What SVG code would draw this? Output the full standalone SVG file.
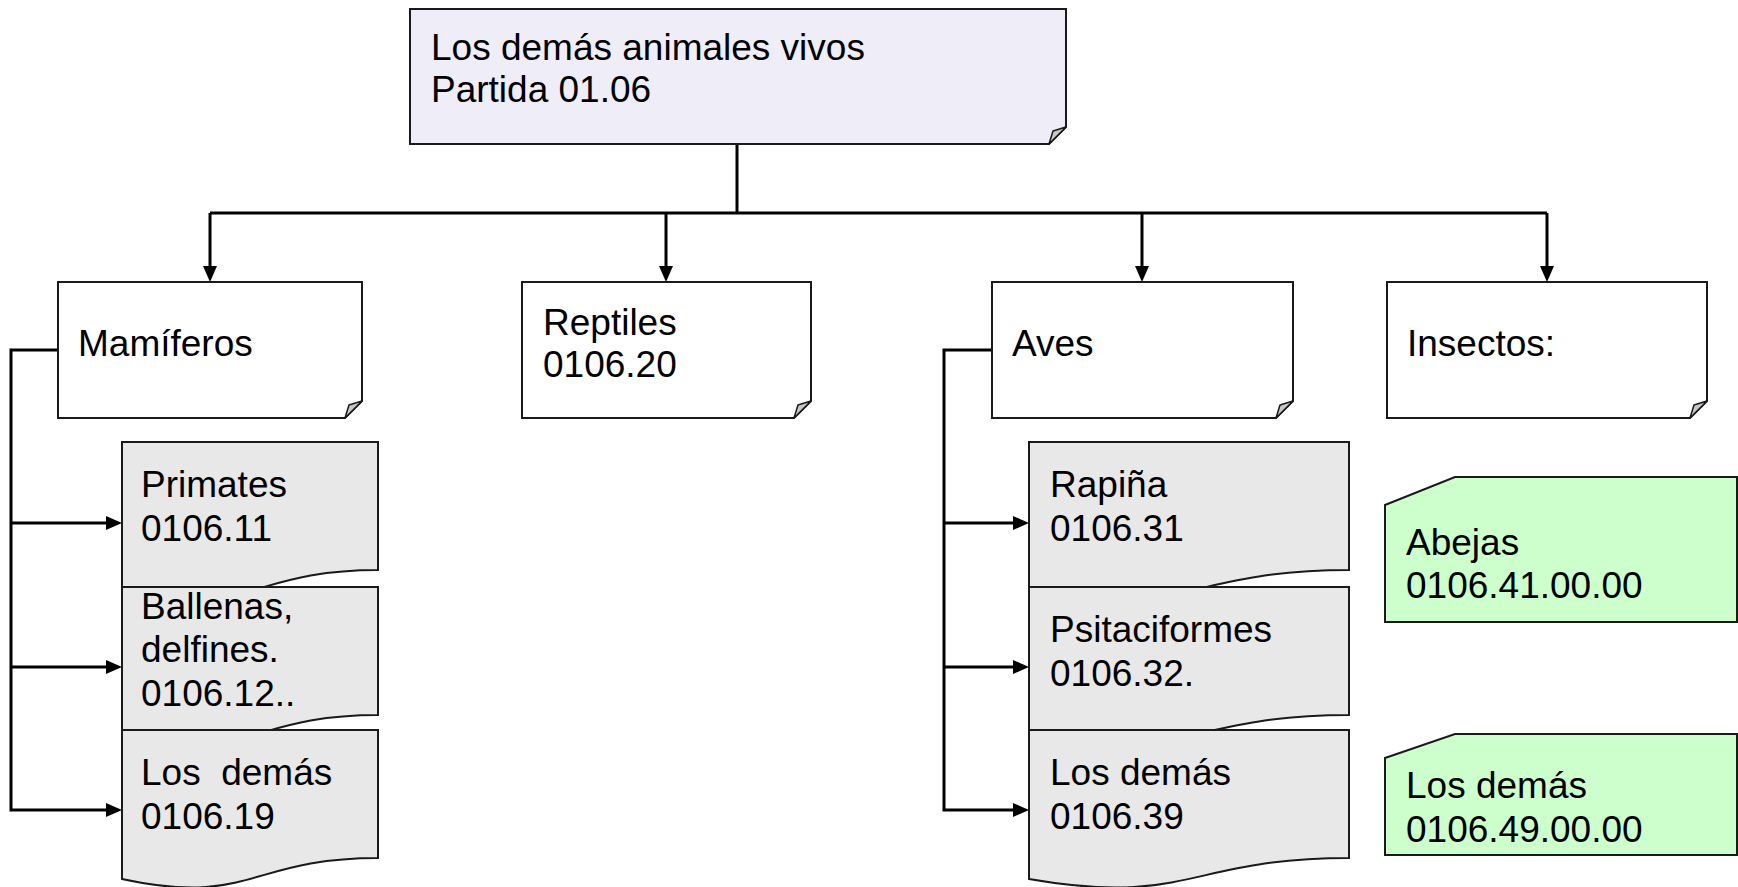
<svg xmlns="http://www.w3.org/2000/svg" width="1738" height="887" viewBox="0 0 1738 887">
<style>
text{font-family:"Liberation Sans",Arial,sans-serif;font-size:37px;fill:#000;white-space:pre}
.box{stroke:#1a1a1a;stroke-width:2;stroke-linejoin:miter}
.top{fill:#efedf8}
.white{fill:#fff}
.doc{fill:#e8e8e8}
.green{fill:#ccffcc}
.fold{fill:#c8c8c8;stroke:#1a1a1a;stroke-width:1.5;stroke-linejoin:round}
.conn{fill:none;stroke:#000;stroke-width:3}
</style>
<defs>
<marker id="arr" markerUnits="userSpaceOnUse" markerWidth="16" markerHeight="16" viewBox="0 0 16 16" refX="2" refY="8" orient="auto">
<path d="M0,1 L16,8 L0,15 Z" fill="#000"/>
</marker>
</defs>
<rect width="1738" height="887" fill="#fff"/>

<g id="connectors">
<path class="conn" d="M737,144 V213"/>
<path class="conn" d="M210,213 H1547"/>
<path class="conn" d="M210,213 V268" marker-end="url(#arr)"/>
<path class="conn" d="M666,213 V268" marker-end="url(#arr)"/>
<path class="conn" d="M1142,213 V268" marker-end="url(#arr)"/>
<path class="conn" d="M1547,213 V268" marker-end="url(#arr)"/>
<path class="conn" d="M58,350 H11 V810 H108" marker-end="url(#arr)"/>
<path class="conn" d="M11,523 H108" marker-end="url(#arr)"/>
<path class="conn" d="M11,667 H108" marker-end="url(#arr)"/>
<path class="conn" d="M992,350 H944 V810 H1015" marker-end="url(#arr)"/>
<path class="conn" d="M944,523 H1015" marker-end="url(#arr)"/>
<path class="conn" d="M944,667 H1015" marker-end="url(#arr)"/>
</g>

<g id="root">
<path class="box top" d="M410,9 H1066 V127 L1049,144 H410 Z"/>
<path class="fold" d="M1066,127 L1053,131 L1049,144 Z"/>
<text x="431" y="60">Los demás animales vivos</text>
<text x="431" y="102">Partida 01.06</text>
</g>

<g id="mamiferos">
<path class="box white" d="M58,282 H362 V401 L345,418 H58 Z"/>
<path class="fold" d="M362,401 L349,405 L345,418 Z"/>
<text x="78" y="356">Mamíferos</text>
</g>

<g id="reptiles">
<path class="box white" d="M522,282 H811 V401 L794,418 H522 Z"/>
<path class="fold" d="M811,401 L798,405 L794,418 Z"/>
<text x="543" y="335">Reptiles</text>
<text x="543" y="377">0106.20</text>
</g>

<g id="aves">
<path class="box white" d="M992,282 H1293 V401 L1276,418 H992 Z"/>
<path class="fold" d="M1293,401 L1280,405 L1276,418 Z"/>
<text x="1012" y="356">Aves</text>
</g>

<g id="insectos">
<path class="box white" d="M1387,282 H1707 V401 L1690,418 H1387 Z"/>
<path class="fold" d="M1707,401 L1694,405 L1690,418 Z"/>
<text x="1407" y="356">Insectos:</text>
</g>

<g id="primates">
<path class="box doc" d="M122,442 H378 V570 C250,570 250,618.8 122,591 Z"/>
<text x="141" y="497">Primates</text>
<text x="141" y="541">0106.11</text>
</g>

<g id="ballenas">
<path class="box doc" d="M122,587 H378 V715 C250,715 250,763.8 122,736 Z"/>
<text x="141" y="619">Ballenas,</text>
<text x="141" y="662">delfines.</text>
<text x="141" y="706">0106.12..</text>
</g>

<g id="mamiferos-demas">
<path class="box doc" d="M122,730 H378 V858 C250,858 250,906.8 122,879 Z"/>
<text x="141" y="785">Los  demás</text>
<text x="141" y="829">0106.19</text>
</g>

<g id="rapina">
<path class="box doc" d="M1029,442 H1349 V570 C1189,570 1189,618.8 1029,591 Z"/>
<text x="1050" y="497">Rapiña</text>
<text x="1050" y="541">0106.31</text>
</g>

<g id="psitaciformes">
<path class="box doc" d="M1029,587 H1349 V715 C1189,715 1189,763.8 1029,736 Z"/>
<text x="1050" y="642">Psitaciformes</text>
<text x="1050" y="686">0106.32.</text>
</g>

<g id="aves-demas">
<path class="box doc" d="M1029,730 H1349 V858 C1189,858 1189,906.8 1029,879 Z"/>
<text x="1050" y="785">Los demás</text>
<text x="1050" y="829">0106.39</text>
</g>

<g id="abejas">
<path class="box green" d="M1385,505 L1455,477 H1737 V622 H1385 Z"/>
<text x="1406" y="555">Abejas</text>
<text x="1406" y="598">0106.41.00.00</text>
</g>

<g id="insectos-demas">
<path class="box green" d="M1385,758 L1455,734 H1737 V855 H1385 Z"/>
<text x="1406" y="798">Los demás</text>
<text x="1406" y="842">0106.49.00.00</text>
</g>
</svg>
